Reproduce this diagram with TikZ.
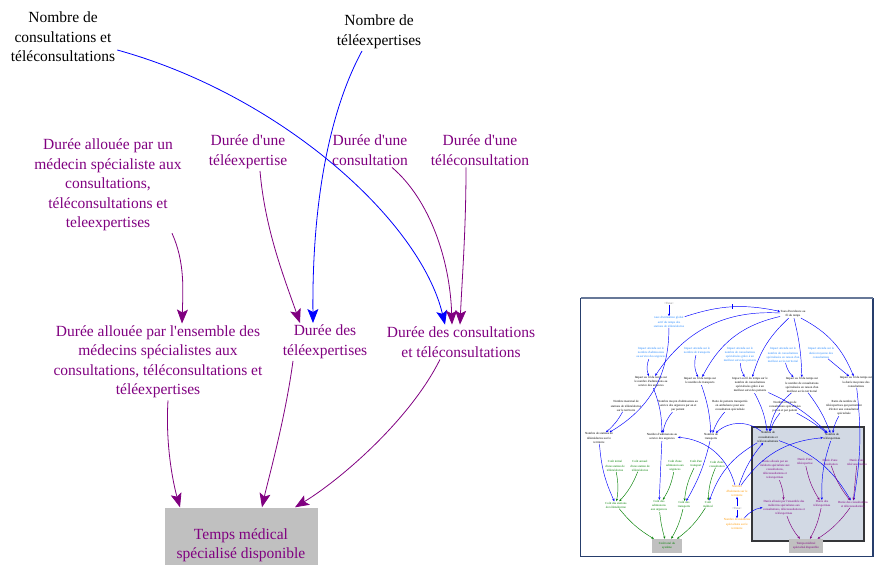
\documentclass[tikz,border=0pt]{standalone}
\usepackage{fontspec}
\setmainfont{Liberation Serif}[Ligatures=TeXOff]
\usetikzlibrary{arrows.meta,positioning,calc}

\definecolor{vpurple}{RGB}{128,0,128}
\definecolor{vblue}{RGB}{0,0,255}
\definecolor{vgreen}{RGB}{0,128,0}
\definecolor{vorange}{RGB}{255,153,0}
\definecolor{vsky}{RGB}{40,140,255}
\definecolor{vgray}{RGB}{192,192,192}
\definecolor{vframe}{RGB}{38,62,108}
\definecolor{vpanel}{RGB}{210,217,228}

\begin{document}
\begin{tikzpicture}[
  x=1pt, y=1pt,
  every node/.style={font=\fontsize{15.5}{19.5}\selectfont, align=center, inner sep=2pt},
  dur/.style={text=vpurple},
  stock/.style={fill=vgray, text=vpurple, minimum width=153pt, minimum height=57pt, text height=49pt},
  parr/.style={vpurple, line width=0.8pt, -{Stealth[length=14pt,width=11pt,inset=3pt]}},
  barr/.style={vblue, line width=0.8pt, -{Stealth[length=14pt,width=11pt,inset=3pt]}},
  mini/.style={font=\fontsize{3.1}{4.1}\selectfont, inner sep=0.4pt},
  ministock/.style={mini, fill=vgray, minimum width=30pt, minimum height=14pt},
  iarr/.style={line width=0.45pt, -{Stealth[length=2.6pt,width=2.2pt]}}
]
  \useasboundingbox (0,0) rectangle (874,-564);

  \node (ncons) at (63,-37) {Nombre de\\consultations et\\téléconsultations};
  \node (ntele) at (379,-32) {Nombre de\\téléexpertises};
  \node[dur] (dmed) at (108,-185) {Durée allouée par un\\médecin spécialiste aux\\consultations,\\téléconsultations et\\teleexpertises};
  \node[dur] (dtexp) at (248,-152) {Durée d'une\\téléexpertise};
  \node[dur] (dcons) at (370,-150) {Durée d'une\\consultation};
  \node[dur] (dtcons) at (480,-150) {Durée d'une\\téléconsultation};
  \node[dur] (densemble) at (158,-362) {Durée allouée par l'ensemble des\\médecins spécialistes aux\\consultations, téléconsultations et\\téléexpertises};
  \node[dur] (dtexps) at (325,-342) {Durée des\\téléexpertises};
  \node[dur] (dconss) at (461,-342) {Durée des consultations\\et téléconsultations};
  \node[stock] (temps) at (241,-536) {Temps médical\\spécialisé disponible};

  \draw[barr] ([yshift=-13pt]ncons.east) .. controls (280,-95) and (420,-220) .. ([xshift=-16pt]dconss.north);
  \draw[barr] ([xshift=-17pt]ntele.south) .. controls (330,-110) and (312,-200) .. ([xshift=-12pt]dtexps.north);
  \draw[parr] ([xshift=64pt]dmed.south) .. controls (185,-262) and (183,-290) .. ([xshift=24pt]densemble.north);
  \draw[parr] ([xshift=12pt]dtexp.south) .. controls (265,-230) and (285,-280) .. ([xshift=-25pt]dtexps.north);
  \draw[parr] ([xshift=22pt]dcons.south) .. controls (430,-200) and (450,-260) .. ([xshift=-9pt]dconss.north);
  \draw[parr] ([xshift=-14pt]dtcons.south) .. controls (466,-230) and (462,-280) .. ([xshift=-1pt]dconss.north);
  \draw[parr] ([xshift=10pt]densemble.south) .. controls (165,-450) and (175,-490) .. ([xshift=-61pt]temps.north);
  \draw[parr] ([xshift=-32pt]dtexps.south) .. controls (285,-420) and (268,-480) .. ([xshift=21pt]temps.north);
  \draw[parr] ([xshift=-21pt]dconss.south) .. controls (410,-420) and (340,-480) .. ([xshift=54pt]temps.north);

  \fill[white] (580.5,-298.5) rectangle (873,-556.5);
  \draw[vpanel!25!black, line width=1.4pt, fill=vpanel] (752,-427) rectangle (864,-541);

  \node[mini, text=gray] (itime) at (669,-303) {<Time>};
  \node[mini, text=vsky] (itaux) at (669,-322) {taux d'utilisation global\\actif du temps des\\stations de télémédecine};
  \node[mini] (iinc) at (793,-314) {Taux d'incidence au\\fil du temps};
  \node[mini, text=vsky] (ia1) at (651,-353) {Impact attendu sur le\\nombre d'admissions\\au service des urgences};
  \node[mini, text=vsky] (ia2) at (697,-351) {Impact attendu sur le\\nombre de transports};
  \node[mini, text=vsky] (ia3) at (740,-355) {Impact attendu sur le\\nombre de consultations\\spécialisées grâce à un\\meilleur suivi des patients};
  \node[mini, text=vsky] (ia4) at (783,-355) {Impact attendu sur le\\nombre de consultations\\spécialisées en raison d'un\\meilleur accès territorial};
  \node[mini, text=vsky] (ia5) at (821,-353) {Impact attendu sur la\\durée moyenne des\\consultations};
  \node[mini] (if1) at (651,-382) {Impact au fil du temps sur\\le nombre d'admissions au\\service des urgences};
  \node[mini] (if2) at (700,-381) {Impact au fil du temps sur\\le nombre de transports};
  \node[mini] (if3) at (750,-385) {Impact au fil du temps sur le\\nombre de consultations\\spécialisées grâce à un\\meilleur suivi des patients};
  \node[mini] (if4) at (802,-385) {Impact au fil du temps sur\\le nombre de consultations\\spécialisées en raison d'un\\meilleur accès territorial};
  \node[mini] (if5) at (856,-382) {Impact au fil du temps sur\\la durée moyenne des\\consultations};
  \node[mini] (inmax) at (626,-406) {Nombre maximal de\\stations de télémédecine\\sur le territoire};
  \node[mini] (inmoy) at (678,-406) {Nombre moyen d'admissions au\\service des urgences par an et\\par patient};
  \node[mini] (iratio) at (730,-406) {Ratio de patients transportés\\en ambulance pour une\\consultation spécialisée};
  \node[mini] (inmc) at (785,-407) {Nombre moyen de\\consultations spécialisées\\par an et par patient};
  \node[mini] (irte) at (844,-408) {Ratio du nombre de\\téléexpertises qui permettent\\d'éviter une consultation\\spécialisée};
  \node[mini] (inst) at (599,-438) {Nombre de stations de\\télémédecine sur le\\territoire};
  \node[mini] (inadm) at (662,-437) {Nombre d'admissions au\\service des urgences};
  \node[mini] (intr) at (711,-437) {Nombre de\\transports};
  \node[mini] (incons) at (768,-437) {Nombre de\\consultations et\\téléconsultations};
  \node[mini] (intel) at (832,-437) {Nombre de\\téléexpertises};
  \node[mini, text=vgreen] (ici) at (615,-466) {Coût initial\\d'une station de\\télémédecine};
  \node[mini, text=vgreen] (ica) at (640,-466) {Coût annuel\\d'une station de\\télémédecine};
  \node[mini, text=vgreen] (icadm) at (675,-466) {Coût d'une\\admission aux\\urgences};
  \node[mini, text=vgreen] (ictr) at (696,-464) {Coût d'un\\transport};
  \node[mini, text=vgreen] (iccons) at (717,-464) {Coût d'une\\consultation};
  \node[mini, text=vgreen] (icst) at (616,-505) {Coût des stations\\de télémédecine};
  \node[mini, text=vgreen] (icadms) at (659,-506) {Coût des\\admissions\\aux urgences};
  \node[mini, text=vgreen] (ictrs) at (684,-505) {Coût des\\transports};
  \node[mini, text=vgreen] (icmed) at (708,-504) {Coût\\médical};
  \node[ministock, text=vgreen] (ictot) at (667,-546) {Coût total du\\système};
  \node[mini, text=vorange] (ihab) at (737,-491) {Nombre\\d'habitants sur le\\territoire};
  \node[mini, text=gray] (itime2) at (737,-508) {<Time>};
  \node[mini, text=vorange] (imed) at (737,-524) {Nombre de médecins\\spécialistes sur le\\territoire};
  \node[mini, text=vpurple] (idmed) at (775,-470) {Durée allouée par un\\médecin spécialiste aux\\consultations,\\téléconsultations et\\teleexpertises};
  \node[mini, text=vpurple] (idtexp) at (805,-462) {Durée d'une\\téléexpertise};
  \node[mini, text=vpurple] (idcons) at (830,-462) {Durée d'une\\consultation};
  \node[mini, text=vpurple] (idtcons) at (857,-462) {Durée d'une\\téléconsultation};
  \node[mini, text=vpurple] (idens) at (784,-508) {Durée allouée par l'ensemble des\\médecins spécialistes aux\\consultations, téléconsultations et\\téléexpertises};
  \node[mini, text=vpurple] (idtexps) at (822,-504) {Durée des\\téléexpertises};
  \node[mini, text=vpurple] (idconss) at (853,-504) {Durée des consultations\\et téléconsultations};
  \node[ministock, text=vpurple, minimum width=34pt] (itemps) at (806,-546) {Temps médical\\spécialisé disponible};

  \foreach \a/\b/\bd in {itime/itaux/0, itaux/inst/-30, iinc/if1/30, iinc/if2/25, iinc/if3/15,
      iinc/if4/-6, iinc/if5/-20, ia1/if1/20, ia2/if2/20, ia3/if3/15, ia4/if4/15, ia5/if5/0,
      if1/inadm/-10, inmoy/inadm/15, if2/intr/-8, iratio/intr/10, incons/intr/40,
      if3/incons/-10, if4/incons/20, inmc/incons/10, if3/intel/-10, if4/intel/-8,
      inmc/intel/-5, irte/intel/10, if5/idconss/-8, inmax/inst/-10, ihab/inadm/35,
      ihab/incons/-10, ihab/intel/-25, incons/icmed/20, intr/ictrs/-8, inadm/icadms/0,
      inst/icst/10, incons/idconss/-20, intel/idtexps/10, itime2/ihab/0, itime2/imed/0,
      imed/idens/-20}
    \draw[iarr, vblue] (\a) to[bend right=\bd] (\b);
  \foreach \a/\b/\bd in {ici/icst/-10, ica/icst/-10, icadm/icadms/-10, ictr/ictrs/10,
      iccons/icmed/10, icst/ictot/10, icadms/ictot/5, ictrs/ictot/-8, icmed/ictot/-10}
    \draw[iarr, vgreen] (\a) to[bend right=\bd] (\b);
  \foreach \a/\b/\bd in {idmed/idens/-10, idtexp/idtexps/10, idcons/idconss/10,
      idtcons/idconss/0, idens/itemps/10, idtexps/itemps/-8, idconss/itemps/-10}
    \draw[iarr, vpurple] (\a) to[bend right=\bd] (\b);
  \draw[iarr, vblue] (itaux) to[bend left=15] coordinate[pos=0.5] (dly) (iinc);
  \draw[vblue, line width=0.8pt] ([yshift=2.5pt]dly) -- ([yshift=-2.5pt]dly);

  \draw[vframe, line width=1.8pt] (580.5,-298.5) rectangle (873,-556.5);
  \draw[vframe!70, line width=2.5pt] (580.5,-298) -- (873,-298);
\end{tikzpicture}
\end{document}
